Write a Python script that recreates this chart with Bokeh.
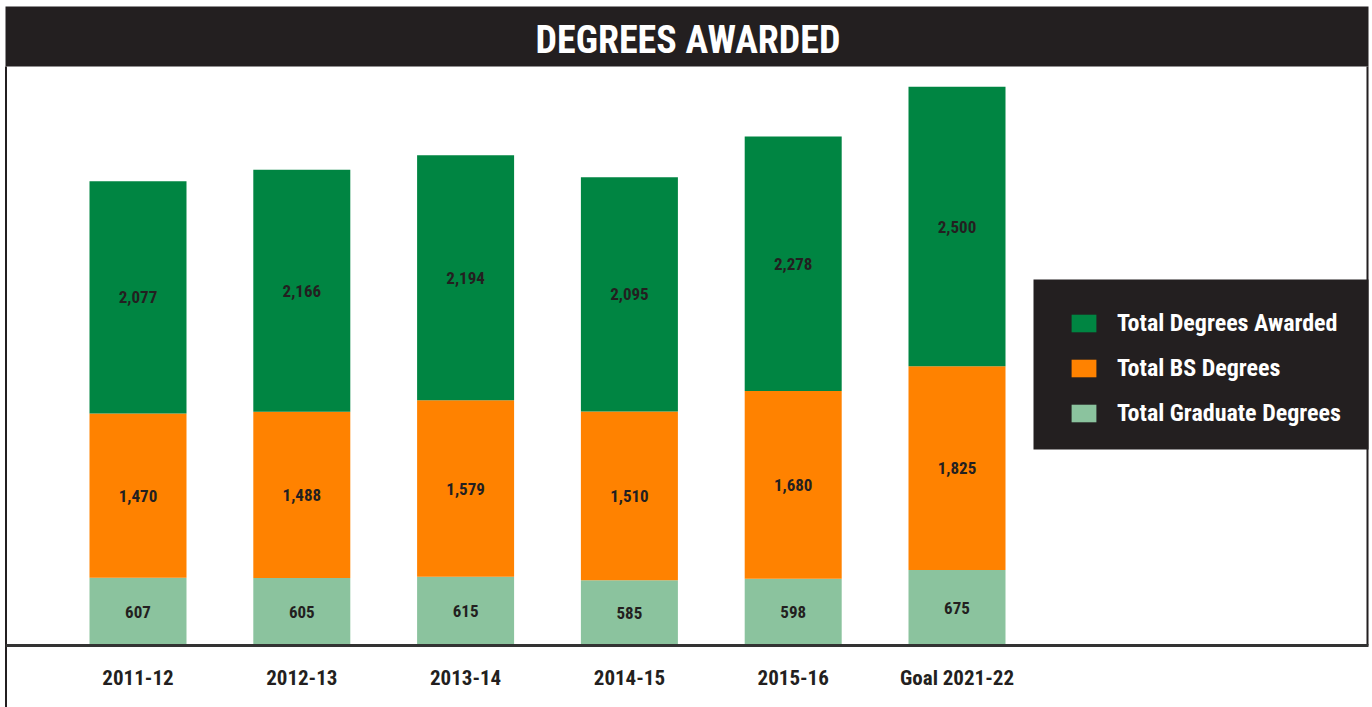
from bokeh.plotting import figure
from bokeh.models import Range1d, BoxAnnotation, Label, Legend, LegendItem, ColumnDataSource
from bokeh.core.properties import value
from bokeh.embed import file_html
from bokeh.resources import INLINE

years = ["2011-12", "2012-13", "2013-14", "2014-15", "2015-16", "Goal 2021-22"]
graduate = [607, 605, 615, 585, 598, 675]
bs_degrees = [1470, 1488, 1579, 1510, 1680, 1825]
total_degrees = [2077, 2166, 2194, 2095, 2278, 2500]

FONT = '"Roboto Condensed", "DejaVu Sans Condensed", "Liberation Sans Narrow", Roboto, sans-serif'
DARK = "#231f20"
C_TOTAL = "#008542"
C_BS = "#ff8200"
C_GRAD = "#8bc39e"

W, H = 1372, 707
S = 8.95           # values per pixel
BASE_PX = 645      # baseline, px from top
PX_X = 163.8       # px per category
X_FIRST = 137.5    # px of first bar centre

def ypx(py):
    return (BASE_PX - py) * S

def xpx(px):
    return (px - X_FIRST) / PX_X

p = figure(width=W, height=H, x_range=Range1d(xpx(0), xpx(W)), y_range=Range1d(ypx(H), ypx(0)),
           output_backend="svg", toolbar_location=None, min_border=0,
           x_axis_location=None, y_axis_location=None, outline_line_color=None)
p.xgrid.visible = False
p.ygrid.visible = False
p.background_fill_color = "white"
p.border_fill_color = "white"

xs = list(range(len(years)))
src = ColumnDataSource(dict(x=xs, graduate=graduate, bs=bs_degrees, total=total_degrees))
rs = p.vbar_stack(["graduate", "bs", "total"], x="x", width=97 / PX_X, source=src,
                  color=[C_GRAD, C_BS, C_TOTAL], line_color=None)

# value labels
g_mid = [g / 2 for g in graduate]
b_mid = [g + b / 2 for g, b in zip(graduate, bs_degrees)]
t_mid = [g + b + t / 2 for g, b, t in zip(graduate, bs_degrees, total_degrees)]
lab_src = ColumnDataSource(dict(
    x=xs * 3,
    y=g_mid + b_mid + t_mid,
    text=[f"{v:,}" for v in graduate + bs_degrees + total_degrees]))
p.text(x="x", y="y", text="text", source=lab_src, text_align="center", text_baseline="middle",
       text_font=value(FONT), text_font_style="bold", text_font_size="17px", text_color=DARK)

# category labels
cat_src = ColumnDataSource(dict(x=xs, y=[ypx(677)] * len(xs), text=years))
p.text(x="x", y="y", text="text", source=cat_src, text_align="center", text_baseline="middle",
       text_font=value(FONT), text_font_style="bold", text_font_size="21px", text_color=DARK)

# title bar
p.add_layout(BoxAnnotation(left=xpx(5), right=xpx(1368), bottom=ypx(66), top=ypx(6),
                           fill_color=DARK, fill_alpha=1.0, line_color=None, level="overlay"))
p.add_layout(Label(x=xpx(687.5), y=ypx(39), text="DEGREES AWARDED", text_align="center",
                   text_baseline="middle", text_color="white", text_font=FONT,
                   text_font_style="bold", text_font_size="38px", level="overlay"))

# frame lines
p.segment(x0=[xpx(5.5)], y0=[ypx(707)], x1=[xpx(5.5)], y1=[ypx(66)], line_color=DARK, line_width=2)
p.segment(x0=[xpx(1367)], y0=[0], x1=[xpx(1367)], y1=[ypx(66)], line_color=DARK, line_width=2)
p.segment(x0=[xpx(5)], y0=[0], x1=[xpx(1368)], y1=[0], line_color="#333333", line_width=3)

# legend
p.add_layout(BoxAnnotation(left=xpx(1033), right=xpx(1368), bottom=ypx(449), top=ypx(279),
                           fill_color=DARK, fill_alpha=1.0, line_color=None, level="annotation"))
legend = Legend(items=[LegendItem(label="Total Degrees Awarded", renderers=[rs[2]]),
                       LegendItem(label="Total BS Degrees", renderers=[rs[1]]),
                       LegendItem(label="Total Graduate Degrees", renderers=[rs[0]])],
                location=(1068, H - 428), background_fill_alpha=0.0,
                border_line_color=None, label_text_color="white", label_text_font=FONT,
                label_text_font_style="bold", label_text_font_size="24px",
                glyph_width=31, glyph_height=22, label_standoff=18, padding=0,
                spacing=15, label_height=30, margin=0)
p.add_layout(legend)

open("out.html", "w").write(file_html(p, INLINE))
